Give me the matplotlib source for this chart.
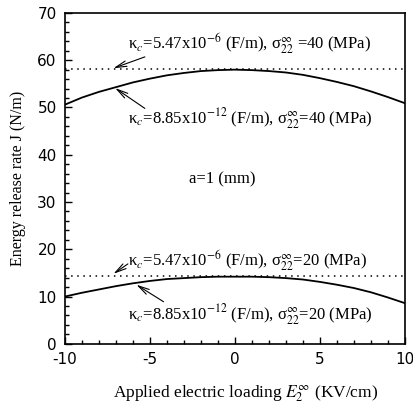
import numpy as np
import matplotlib
matplotlib.use('Agg')
import matplotlib.pyplot as plt
from matplotlib.ticker import MultipleLocator

plt.rcParams['font.family'] = ['Liberation Serif', 'DejaVu Serif']
plt.rcParams['mathtext.fontset'] = 'stix'
plt.rcParams['axes.unicode_minus'] = False

# applied electric loading E2 (KV/cm)
e_field = [-10, -9, -8, -7, -6, -5, -4, -3, -2, -1, 0, 1, 2, 3, 4, 5, 6, 7, 8, 9, 10]

# energy release rate J (N/m), sigma22 = 40 MPa
j40_kappa_large = [58.2] * 21
j40_kappa_vacuum = [50.6, 52.1, 53.3, 54.3, 55.3, 56.1, 56.8, 57.3, 57.7, 57.9, 58.0,
                    57.9, 57.7, 57.4, 56.9, 56.2, 55.4, 54.5, 53.4, 52.2, 50.9]

# energy release rate J (N/m), sigma22 = 20 MPa
j20_kappa_large = [14.4] * 21
j20_kappa_vacuum = [10.0, 10.8, 11.5, 12.2, 12.8, 13.3, 13.7, 13.9, 14.1, 14.2, 14.2,
                    14.2, 14.1, 13.9, 13.6, 13.1, 12.5, 11.8, 10.9, 9.8, 8.6]


def annotate_case(ax, label, text_xy, head_xy, tail_xy):
    ax.text(text_xy[0], text_xy[1], label, ha='left', va='center', fontsize=12)
    ax.annotate('', xy=head_xy, xytext=tail_xy,
                arrowprops=dict(arrowstyle='->, head_length=0.8, head_width=0.2',
                                color='black', lw=0.8, shrinkA=0, shrinkB=0))


fig = plt.figure(figsize=(4.14, 4.04), dpi=100)
ax = fig.add_axes([0.157, 0.149, 0.821, 0.819])

ax.plot(e_field, j40_kappa_large, color='black', lw=1.1, linestyle=(0, (1, 3)))
ax.plot(e_field, j40_kappa_vacuum, color='black', lw=1.3)
ax.plot(e_field, j20_kappa_large, color='black', lw=1.1, linestyle=(0, (1, 3)))
ax.plot(e_field, j20_kappa_vacuum, color='black', lw=1.3)

annotate_case(ax, r'κ$_c$=5.47x10$^{-6}$ (F/m), σ$_{22}^{\infty}$ =40 (MPa)',
              (-6.3, 63.6), (-7.15, 58.3), (-5.3, 60.7))
annotate_case(ax, r'κ$_c$=8.85x10$^{-12}$ (F/m), σ$_{22}^{\infty}$=40 (MPa)',
              (-6.3, 47.7), (-7.05, 54.1), (-5.3, 49.8))
annotate_case(ax, r'κ$_c$=5.47x10$^{-6}$ (F/m), σ$_{22}^{\infty}$=20 (MPa)',
              (-6.3, 17.6), (-7.15, 14.8), (-6.3, 16.9))
annotate_case(ax, r'κ$_c$=8.85x10$^{-12}$ (F/m), σ$_{22}^{\infty}$=20 (MPa)',
              (-6.3, 6.1), (-5.8, 12.5), (-4.2, 8.9))

ax.text(-0.76, 34.7, 'a=1 (mm)', ha='center', va='center', fontsize=12)

ax.set_xlim(-10, 10)
ax.set_ylim(0, 70)
ax.xaxis.set_major_locator(MultipleLocator(5))
ax.xaxis.set_minor_locator(MultipleLocator(1))
ax.yaxis.set_major_locator(MultipleLocator(10))
ax.yaxis.set_minor_locator(MultipleLocator(2))
ax.tick_params(which='both', direction='in', top=False, right=False, width=1.0)
ax.tick_params(which='major', length=5, labelsize=11, pad=6)
ax.tick_params(which='minor', length=3)
for lbl in ax.get_xticklabels() + ax.get_yticklabels():
    lbl.set_fontfamily('DejaVu Sans')
for sp in ax.spines.values():
    sp.set_linewidth(1.2)

ax.set_xlabel(r'Applied electric loading $E_2^{\infty}$ (KV/cm)', fontsize=12.5)
ax.xaxis.set_label_coords(0.53, -0.12)
ax.set_ylabel('Energy release rate J (N/m)', fontsize=11.5, labelpad=8)

fig.savefig('out.png', dpi=100)
